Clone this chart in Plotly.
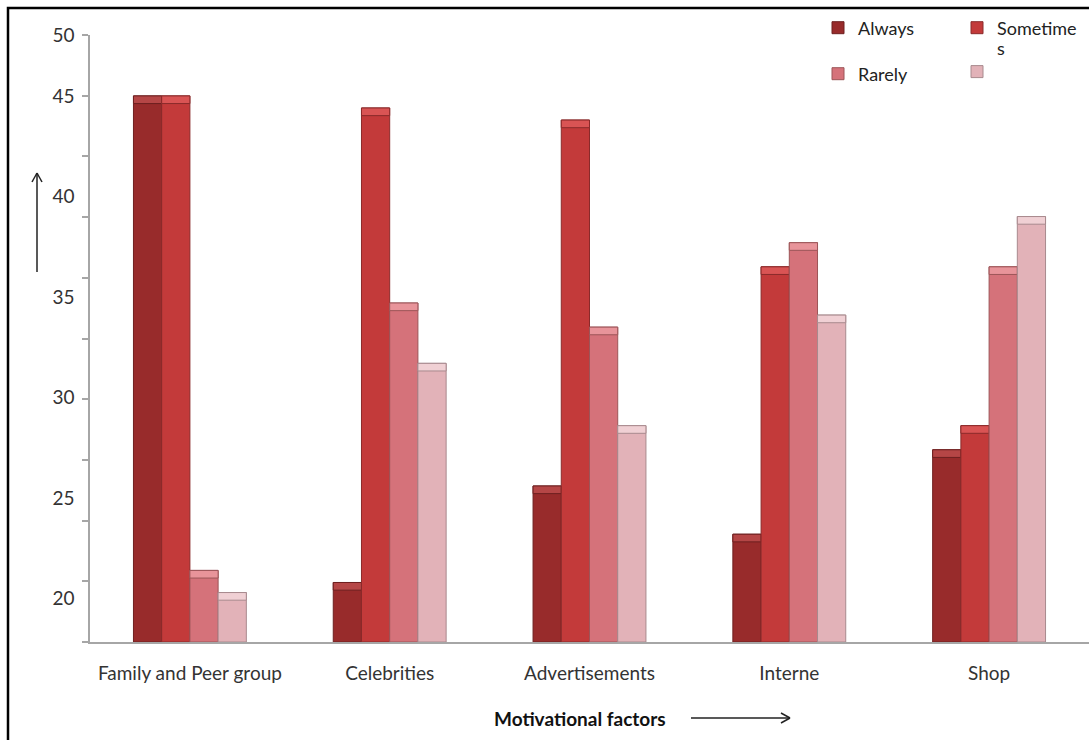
import plotly.graph_objects as go

# Survey data: response frequency per motivational factor
categories = ["Family and Peer group", "Celebrities", "Advertisements", "Interne", "Shop"]
always = [45.0, 20.8, 25.6, 23.2, 27.4]
sometimes = [45.0, 44.4, 43.8, 36.5, 28.6]
rarely = [21.4, 34.7, 33.5, 37.7, 36.5]
often = [20.3, 31.7, 28.6, 34.1, 39.0]

series_names = ["Always", "Sometime", "Rarely", "s<br> <br> "]
series_values = [always, sometimes, rarely, often]
series_legends = ["legend", "legend2", "legend3", "legend4"]
body_colors = ["#982B2B", "#C33A3A", "#D5727A", "#E2B2B8"]
cap_colors = ["#B54646", "#D95454", "#E8949A", "#F0D0D4"]
edge_colors = ["#6E2020", "#8A2A2A", "#9C5558", "#A88A8E"]

y_tick_vals = [20, 25, 30, 35, 40, 45, 48.0]
y_tick_text = ["20", "25", "30", "35", "40", "45", "50"]
Y_MIN, Y_MAX = 17.84, 48.03
CAP = 0.38  # height of the bevelled top of each bar

FONT = "Lato, 'Open Sans', sans-serif"
FIG_W, FIG_H = 1089, 740

fig = go.Figure()
for i, (name, vals) in enumerate(zip(series_names, series_values)):
    fig.add_trace(go.Bar(
        x=categories, y=[v - Y_MIN for v in vals], base=Y_MIN,
        name=name, offsetgroup=str(i), legend=series_legends[i],
        marker=dict(color=body_colors[i], line=dict(color=edge_colors[i], width=1)),
        hovertemplate="%{x}: %{customdata}<extra></extra>", customdata=vals,
    ))
    fig.add_trace(go.Bar(
        x=categories, y=[CAP] * len(vals), base=[v - CAP for v in vals],
        offsetgroup=str(i), showlegend=False, hoverinfo="skip",
        marker=dict(color=cap_colors[i], line=dict(color=edge_colors[i], width=1)),
    ))

# page geometry helpers for decorations (frame and arrows)
L, T, W, H = 90, 35, 999, 607


def px(x):
    return (x - L) / W


def py(y):
    return (T + H - y) / H


def cx(x):
    return x / FIG_W


def cy(y):
    return (FIG_H - y) / FIG_H


ARROW = dict(color="#222222", width=1.5)
shapes = [
    # outer frame
    dict(type="rect", xref="paper", yref="paper", x0=px(8), x1=px(1200), y0=py(900), y1=py(8),
         line=dict(color="#000000", width=2.5), fillcolor="rgba(0,0,0,0)", layer="above"),
    # vertical arrow beside the value axis
    dict(type="line", xref="paper", yref="paper", x0=px(37), x1=px(37), y0=py(272), y1=py(173), line=ARROW),
    dict(type="line", xref="paper", yref="paper", x0=px(32), x1=px(37), y0=py(182), y1=py(173), line=ARROW),
    dict(type="line", xref="paper", yref="paper", x0=px(42), x1=px(37), y0=py(182), y1=py(173), line=ARROW),
    # horizontal arrow after the axis title
    dict(type="line", xref="paper", yref="paper", x0=px(691), x1=px(790), y0=py(718), y1=py(718), line=ARROW),
    dict(type="line", xref="paper", yref="paper", x0=px(781), x1=px(790), y0=py(713), y1=py(718), line=ARROW),
    dict(type="line", xref="paper", yref="paper", x0=px(781), x1=px(790), y0=py(723), y1=py(718), line=ARROW),
]

legend_common = dict(orientation="h", xanchor="left", yanchor="middle",
                     xref="container", yref="container",
                     font=dict(size=18, color="#222222"), bgcolor="rgba(0,0,0,0)",
                     itemclick=False)

fig.update_layout(
    width=FIG_W, height=FIG_H,
    margin=dict(l=L, r=FIG_W - L - W, t=T, b=FIG_H - T - H, autoexpand=False),
    paper_bgcolor="white", plot_bgcolor="white",
    barmode="group", bargap=0.435, bargroupgap=0,
    font=dict(family=FONT, size=19, color="#333333"),
    shapes=shapes,
    legend=dict(x=cx(818), y=cy(28), **legend_common),
    legend2=dict(x=cx(957), y=cy(28), **legend_common),
    legend3=dict(x=cx(818), y=cy(74), **legend_common),
    legend4=dict(x=cx(957), y=cy(72), **legend_common),
    annotations=[dict(text="<b>Motivational factors</b>", xref="paper", yref="paper",
                      x=px(580), y=py(718), xanchor="center", yanchor="middle", showarrow=False,
                      font=dict(size=19, color="#111111", family=FONT))],
)

fig.update_xaxes(showline=True, linecolor="#A6A6A6", linewidth=1.5, ticks="",
                 tickfont=dict(size=19, color="#333333"), ticklabelstandoff=13,
                 showgrid=False)
fig.update_yaxes(range=[Y_MIN, Y_MAX], showgrid=False, zeroline=False,
                 showline=True, linecolor="#A6A6A6", linewidth=1.5,
                 tickmode="array", tickvals=y_tick_vals, ticktext=y_tick_text, ticks="",
                 ticklabelstandoff=10, tickfont=dict(size=19, color="#333333"),
                 minor=dict(ticks="outside", tickmode="linear", tick0=Y_MIN,
                            dtick=(Y_MAX - Y_MIN) / 10, ticklen=6, tickcolor="#A6A6A6",
                            tickwidth=1.5, showgrid=False))

fig.write_html("out.html")
